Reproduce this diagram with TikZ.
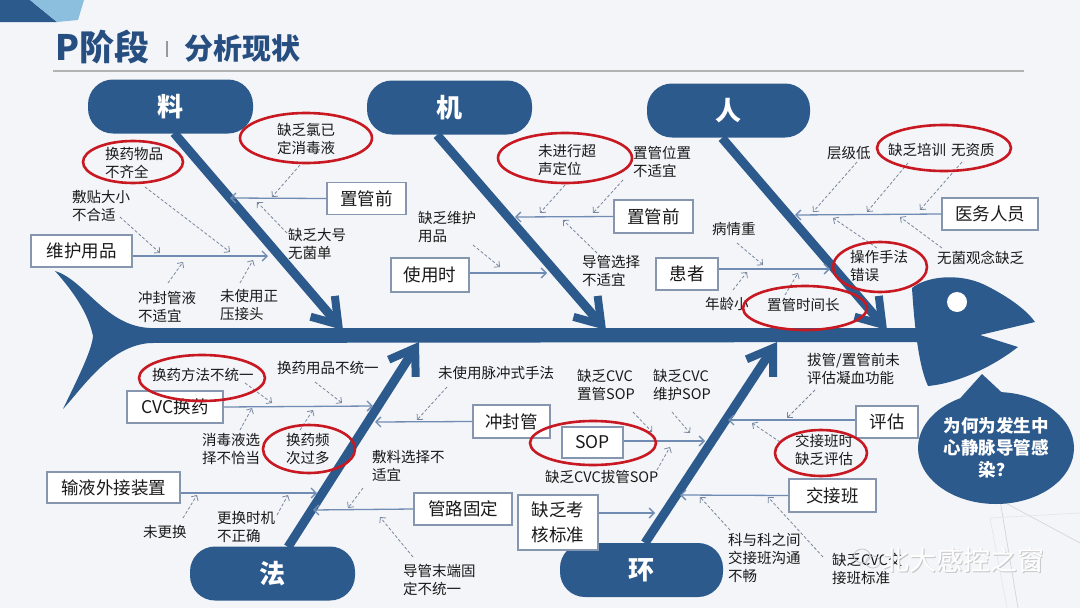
\documentclass[tikz,border=0pt]{standalone}
\usepackage{fontspec}
\setmainfont{Noto Sans CJK SC}
\usetikzlibrary{arrows.meta,shapes.geometric,calc}
\definecolor{fishblue}{RGB}{45,90,140}
\definecolor{titleblue}{RGB}{38,78,128}
\definecolor{lightblue}{RGB}{140,190,222}
\definecolor{branchblue}{RGB}{112,140,178}
\definecolor{boxgray}{RGB}{135,150,175}
\definecolor{dashgray}{RGB}{120,135,160}
\definecolor{ellred}{RGB}{200,25,35}
\definecolor{bgc}{RGB}{244,245,248}
\definecolor{txt}{RGB}{25,25,25}
\begin{document}
\begin{tikzpicture}[x=1pt,y=-1pt,
  catpill/.style={fill=fishblue, rounded corners=25pt, minimum width=165pt, minimum height=54pt, text=white, font=\bfseries\fontsize{26}{26}\selectfont, inner sep=0pt},
  bone/.style={draw=fishblue, line width=9pt, -{Straight Barb[length=24pt,width=32pt,line width=8pt]}},
  stepbox/.style={draw=boxgray, fill=white, line width=1.2pt, font=\fontsize{17.5}{21}\selectfont, text=txt, inner sep=0pt, minimum height=32pt},
  branch/.style={draw=branchblue, line width=1.3pt, -{Straight Barb[length=5pt,width=10pt]}},
  dasharr/.style={draw=dashgray, line width=0.8pt, dash pattern=on 3pt off 2pt, -{Straight Barb[length=4pt,width=8pt]}},
  lab/.style={font=\fontsize{14.5}{18}\selectfont, text=txt, align=left, inner sep=0pt, anchor=west},
  redell/.style={draw=ellred, line width=2.6pt}
]
\useasboundingbox (0,0) rectangle (1080,608);
\fill[bgc] (0,0) rectangle (1080,608);

% top-left decoration
\fill[fishblue] (0,0) -- (30,0) -- (57,22) -- (0,22) -- cycle;
\fill[lightblue] (30,0) -- (84,0) -- (78,20) -- (57,22) -- cycle;

% bottom-right faint lines
\draw[gray!35, line width=0.6pt] (1000,500) -- (1018,608);
\draw[gray!35, line width=0.6pt] (1000,500) -- (1080,543);
\draw[gray!20, line width=0.6pt] (990,518) -- (1080,513);
\draw[gray!20, line width=0.6pt] (990,518) -- (1007,608);

% title
\node[anchor=west, text=titleblue, font=\bfseries\fontsize{35}{35}\selectfont, inner sep=0pt] (t1) at (55,47) {P阶段};
\node[anchor=west, text=titleblue, font=\bfseries\fontsize{29}{29}\selectfont, inner sep=0pt] (t2) at (184,48) {分析现状};
\draw[gray!80, line width=2pt] (167,41) -- (167,57);
\draw[gray!60, line width=1.5pt] (53,71) -- (1024,71);

% fish body: tail + spine
\fill[fishblue] (55,271) .. controls (85,280) and (105,326) .. (150,328) -- (925,328) -- (925,342) -- (150,343)
  .. controls (110,346) and (85,385) .. (63,409) .. controls (78,378) and (92,350) .. (93,336)
  .. controls (88,312) and (72,290) .. cycle;
% head
\fill[fishblue] (912,288) .. controls (925,277) and (958,272) .. (985,285) .. controls (1005,295) and (1025,308) .. (1035,322)
  -- (980,335) -- (1018,347) .. controls (995,365) and (960,383) .. (928,386) .. controls (918,365) and (914,320) .. cycle;
\fill[white] (957,302) circle [radius=10];
% bubble pointer
\fill[fishblue] (982,374) -- (1012,402) -- (955,404) -- cycle;

% bones
\coordinate (liaoS) at (174,133); \coordinate (liaoT) at (343,330);
\coordinate (jiS) at (437,135);   \coordinate (jiT) at (606,330);
\coordinate (renS) at (722,138);  \coordinate (renT) at (887,330);
\coordinate (faS) at (288,547);   \coordinate (faT) at (419,342);
\coordinate (huanS) at (645,543); \coordinate (huanT) at (777,342);
\draw[bone] (liaoS) -- (liaoT);
\draw[bone] (jiS) -- (jiT);
\draw[bone] (renS) -- (renT);
\draw[bone] (faS) -- (faT);
\draw[bone] (huanS) -- (huanT);

% category pills
\node[catpill] (liao) at (170.5,106.5) {料};
\node[catpill] (ji) at (449.5,107.5) {机};
\node[catpill, minimum width=163pt] (ren) at (728.5,110.5) {人};
\node[catpill] (fa) at (272.5,573.5) {法};
\node[catpill, minimum width=163pt] (huan) at (641.5,570) {环};

% boxes
\node[stepbox, minimum width=79pt] (zg1) at (366.5,198.5) {置管前};
\node[stepbox, minimum width=101pt] (whyp) at (81.5,251) {维护用品};
\node[stepbox, minimum width=79pt, minimum height=33pt] (zg2) at (653.5,216.5) {置管前};
\node[stepbox, minimum width=78pt, minimum height=34pt] (sys) at (430,275) {使用时};
\node[stepbox, minimum width=96pt] (yw) at (990,214) {医务人员};
\node[stepbox, minimum width=62pt] (hz) at (687,274) {患者};
\node[stepbox, minimum width=96pt] (cvc) at (175,407) {CVC换药};
\node[stepbox, minimum width=133pt, minimum height=31pt] (sy) at (113.5,487.5) {输液外接装置};
\node[stepbox, minimum width=77pt, minimum height=33pt] (cfg) at (511.5,421.5) {冲封管};
\node[stepbox, minimum width=98pt] (glgd) at (463,509) {管路固定};
\node[stepbox, minimum width=80pt, minimum height=55pt, align=center, font=\fontsize{17.5}{25}\selectfont] (kh) at (558,522.5) {缺乏考\\核标准};
\node[stepbox, minimum width=61pt, minimum height=31pt] (sop) at (592.5,442.5) {SOP};
\node[stepbox, minimum width=62pt] (pg) at (887,422) {评估};
\node[stepbox, minimum width=87pt, minimum height=33pt] (jjb) at (832.5,495.5) {交接班};

% branch end points on bones
\coordinate (e_zg1) at (230,198);
\coordinate (e_whyp) at (268,256);
\coordinate (e_zg2) at (515,217);
\coordinate (e_sys) at (547,273);
\coordinate (e_yw) at (795,215);
\coordinate (e_hz) at (830,269);
\coordinate (e_cvc) at (373,406);
\coordinate (e_cfg) at (375,422);
\coordinate (e_sy) at (317,493);
\coordinate (e_glgd) at (313,510);
\coordinate (e_kh) at (655,513);
\coordinate (e_sop) at (705,441);
\coordinate (e_pg) at (728,420);
\coordinate (e_jjb) at (680,495);

\draw[branch] (zg1.west) -- (e_zg1);
\draw[branch] ([yshift=-5pt]whyp.east) -- (e_whyp);
\draw[branch] (zg2.west) -- (e_zg2);
\draw[branch] ([yshift=2pt]sys.east) -- (e_sys);
\draw[branch] (yw.west) -- (e_yw);
\draw[branch] ([yshift=5pt]hz.east) -- (e_hz);
\draw[branch] (cvc.east) -- (e_cvc);
\draw[branch] (cfg.west) -- (e_cfg);
\draw[branch] ([yshift=-5.5pt]sy.east) -- (e_sy);
\draw[branch] (glgd.west) -- (e_glgd);
\draw[branch] ([yshift=9.5pt]kh.east) -- (e_kh);
\draw[branch] ([yshift=1.5pt]sop.east) -- (e_sop);
\draw[branch] ([yshift=2pt]pg.west) -- (e_pg);
\draw[branch] (jjb.west) -- (e_jjb);

% dashed cause arrows
\foreach \i/\ax/\ay/\bx/\by in {
  1/300/165/272/197, 2/287/233/257/202, 3/145/187/230/252, 4/120/217/160/253,
  5/168/283/183/262, 6/240/283/253/260,
  7/565/185/540/213, 8/623/180/593/213, 9/597/253/563/220, 10/473/245/500/267,
  11/857/162/813/212, 12/908/163/867/212, 13/962/162/920/210, 14/942/248/900/217,
  15/877/248/833/218, 16/737/243/763/265, 17/733/290/747/272, 18/785/295/798/273,
  19/245/383/272/403, 20/315/382/342/403, 21/240/430/252/408, 22/300/430/313/410,
  23/183/518/197/495, 24/277/515/288/495, 25/447/387/417/420, 26/363/488/348/508,
  27/413/557/380/517,
  28/633/412/652/432, 29/672/412/690/433, 30/657/470/670/447, 31/815/390/787/418,
  32/780/442/752/423, 33/730/530/700/497, 34/823/557/768/497} {
  \coordinate (d\i a) at (\ax,\ay);
  \coordinate (d\i b) at (\bx,\by);
  \draw[dasharr] (d\i a) -- (d\i b);
}

% cause labels
\node[lab] (a1) at (277,139) {缺乏氯已\\定消毒液};
\node[lab] (a2) at (105,162.5) {换药物品\\不齐全};
\node[lab] (a3) at (72,205.5) {敷贴大小\\不合适};
\node[lab] (a4) at (288,244) {缺乏大号\\无菌单};
\node[lab] (a5) at (138,307) {冲封管液\\不适宜};
\node[lab] (a6) at (220,305) {未使用正\\压接头};
\node[lab] (b1) at (538,160) {未进行超\\声定位};
\node[lab] (b2) at (633,162) {置管位置\\不适宜};
\node[lab] (b3) at (418,227) {缺乏维护\\用品};
\node[lab] (b4) at (582,271) {导管选择\\不适宜};
\node[lab] (c1) at (827,153) {层级低};
\node[lab] (c2) at (888,150) {缺乏培训\hspace{5pt}无资质};
\node[lab] (c3) at (712,229) {病情重};
\node[lab] (c4) at (937,258) {无菌观念缺乏};
\node[lab] (c5) at (850,266) {操作手法\\错误};
\node[lab] (c6) at (705,304) {年龄小};
\node[lab] (c7) at (767,305) {置管时间长};
\node[lab] (e1) at (152,375) {换药方法不统一};
\node[lab] (e2) at (277,368) {换药用品不统一};
\node[lab] (e3) at (202,449) {消毒液选\\择不恰当};
\node[lab] (e4) at (286,449) {换药频\\次过多};
\node[lab] (e5) at (143,532) {未更换};
\node[lab] (e6) at (217,527) {更换时机\\不正确};
\node[lab] (e7) at (438,373) {未使用脉冲式手法};
\node[lab] (e8) at (372,466) {敷料选择不\\适宜};
\node[lab] (e9) at (403,580) {导管末端固\\定不统一};
\node[lab] (f1) at (577,385) {缺乏CVC\\置管SOP};
\node[lab] (f2) at (653,385) {缺乏CVC\\维护SOP};
\node[lab] (f3) at (545,477) {缺乏CVC拔管SOP};
\node[lab] (f4) at (807,369) {拔管/置管前未\\评估凝血功能};
\node[lab] (f5) at (795,450) {交接班时\\缺乏评估};
\node[lab] (f6) at (728,558) {科与科之间\\交接班沟通\\不畅};
\node[lab] (f7) at (832,569) {缺乏CVC交\\接班标准};

% red ellipses
\draw[redell] (306,138) ellipse [x radius=66, y radius=25];
\draw[redell] (133,162) ellipse [x radius=50, y radius=21];
\draw[redell] (565,158) ellipse [x radius=67, y radius=25];
\draw[redell] (944,148) ellipse [x radius=67, y radius=23];
\draw[redell] (880,267) ellipse [x radius=47, y radius=25];
\draw[redell] (805,308) ellipse [x radius=62, y radius=22];
\draw[redell] (202,378) ellipse [x radius=63, y radius=23];
\draw[redell] (309,449) ellipse [x radius=46, y radius=24];
\draw[redell] (593,443) ellipse [x radius=63, y radius=22];
\draw[redell] (821,453) ellipse [x radius=46, y radius=23];

% question bubble
\node[ellipse, fill=fishblue, minimum width=156pt, minimum height=112pt, inner sep=0pt, text=white, align=center,
  font=\bfseries\fontsize{17.5}{22}\selectfont] (q) at (996,448) {为何为发生中\\心静脉导管感\\染？};

% watermark
\draw[gray!45, line width=0.8pt] (862,556) ellipse [x radius=8, y radius=7];
\draw[gray!45, line width=0.8pt] (873,562) ellipse [x radius=7, y radius=6];
\node[text=gray!45, font=\fontsize{27}{27}\selectfont, inner sep=0pt] (wm0) at (964,561) {北大感控之窗};
\node[text=white, font=\fontsize{27}{27}\selectfont, inner sep=0pt] (wm) at (963,560) {北大感控之窗};
\end{tikzpicture}
\end{document}
